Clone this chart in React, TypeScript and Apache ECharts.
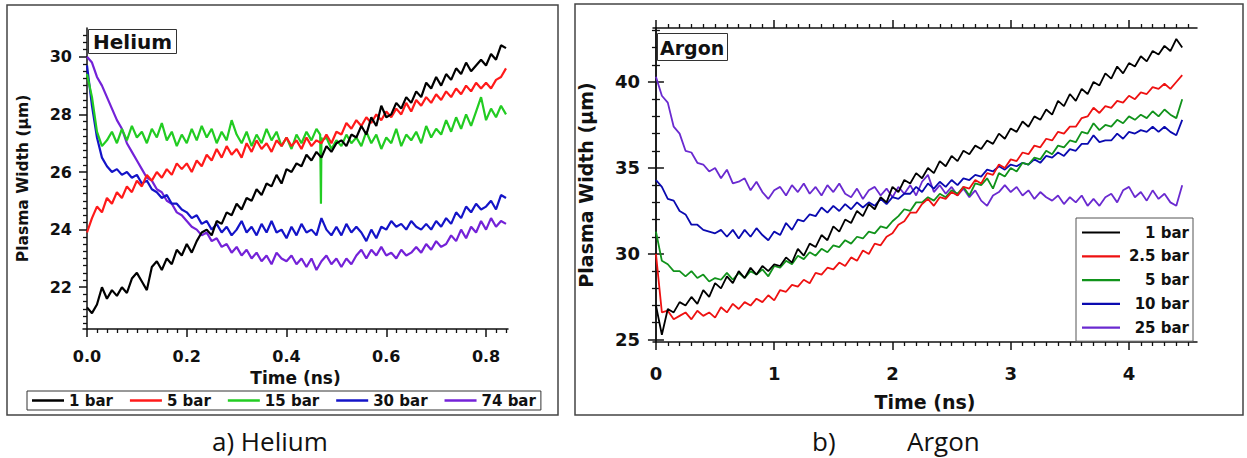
import React, { useEffect, useRef } from "react";
import * as echarts from "echarts";

// ---------------- DATA ----------------
const heliumTimeStep = 0.01; // ns between samples (t = 0 … 0.84)
const argonTimeStep = 0.05; // ns between samples (t = 0 … 4.45)

const heliumNames = ["1 bar", "5 bar", "15 bar", "30 bar", "74 bar"];
const argonNames = ["1 bar", "2.5 bar", "5 bar", "10 bar", "25 bar"];

const heliumBar1 = [21.3,21.1,21.4,22.0,21.6,21.9,21.7,22.0,21.8,22.3,
 22.5,22.2,21.9,22.7,22.9,22.6,23.0,22.8,23.3,23.1,
 23.5,23.2,23.6,23.9,24.0,23.8,24.3,24.2,24.6,24.5,
 24.9,24.7,25.1,25.0,25.4,25.2,25.6,25.5,25.9,25.6,
 26.1,26.0,26.3,26.2,26.6,26.4,26.7,26.5,26.9,26.7,
 27.0,27.1,26.9,27.3,27.2,27.6,27.3,27.9,27.6,28.3,
 27.9,28.0,28.4,28.2,28.6,28.4,28.8,28.6,29.1,28.9,
 29.3,29.0,29.4,29.2,29.6,29.4,29.8,29.5,29.7,29.9,
 29.7,30.1,29.9,30.4,30.3];
const heliumBar5 = [23.9,24.4,24.8,24.6,25.1,24.9,25.3,25.1,25.5,25.3,
 25.7,25.5,25.9,25.7,26.0,25.8,26.1,25.9,26.3,26.1,
 26.3,26.0,26.4,26.2,26.6,26.4,26.8,26.5,26.9,26.6,
 26.8,26.5,27.0,26.7,27.1,26.8,27.0,26.7,27.1,26.9,
 27.2,26.9,27.1,26.8,27.2,26.9,27.1,27.0,27.3,27.0,
 27.4,27.3,27.7,27.5,27.8,27.6,27.9,27.7,28.0,27.8,
 28.1,27.9,28.2,28.0,28.4,28.1,28.5,28.3,28.6,28.4,
 28.7,28.5,28.8,28.6,28.9,28.7,29.0,28.8,29.1,28.9,
 29.1,28.9,29.2,29.3,29.6];
const heliumBar15 = [29.4,28.6,27.4,26.9,27.1,27.4,27.0,27.5,27.1,27.6,
 27.2,27.4,27.0,27.5,27.2,27.7,27.1,27.4,26.9,27.3,
 27.0,27.5,27.1,27.6,27.2,27.5,27.0,27.4,27.1,27.8,
 27.3,27.0,27.4,26.9,27.3,27.0,27.5,27.1,27.4,26.9,
 27.2,26.8,27.3,27.0,27.4,27.1,27.5,27.2,27.2,26.8,
 27.1,26.9,27.3,27.0,27.2,26.9,27.4,27.0,27.3,26.8,
 27.2,27.0,27.5,26.9,27.3,27.1,27.4,27.0,27.6,27.2,
 27.5,27.3,27.8,27.4,27.9,27.5,28.0,27.6,28.1,28.6,
 27.8,28.2,27.9,28.3,28.0];
// narrow downward spike of the 15 bar trace, [time, width]
const heliumBar15Spike = [[0.4675, 27.3], [0.4690, 24.9], [0.4705, 27.1]];
const heliumBar30 = [29.7,28.3,27.2,26.5,26.2,26.0,26.1,25.9,26.0,25.8,
 25.9,25.6,25.7,25.4,25.3,25.1,25.2,24.9,24.9,24.7,
 24.6,24.4,24.5,24.2,24.3,24.0,24.2,23.9,24.1,23.8,
 24.0,24.3,23.9,24.1,23.8,24.2,23.9,24.3,23.9,24.0,
 23.7,24.1,23.8,24.2,23.9,24.0,23.8,24.4,24.0,23.8,
 24.1,23.8,24.2,23.9,24.1,23.9,23.6,24.0,23.7,24.1,
 24.0,24.3,24.1,24.2,24.0,24.3,24.1,24.0,24.2,24.0,
 24.3,24.1,24.4,24.2,24.6,24.4,24.8,24.6,24.9,24.7,
 24.8,25.0,24.7,25.2,25.1];
const heliumBar74 = [30.0,29.8,29.3,29.0,28.6,28.2,27.8,27.5,27.0,26.7,
 26.4,26.1,25.8,25.7,25.4,25.3,25.0,24.9,24.6,24.5,
 24.3,24.1,24.0,23.8,23.9,23.6,23.7,23.4,23.5,23.2,
 23.4,23.1,23.3,23.0,23.2,22.9,23.1,22.8,23.2,23.0,
 22.9,23.1,22.8,23.0,22.7,23.0,22.6,22.9,23.1,22.8,
 23.0,22.7,23.0,22.8,23.1,23.3,23.0,23.3,23.1,23.4,
 23.1,23.2,23.0,23.3,23.1,23.2,23.4,23.2,23.5,23.3,
 23.6,23.4,23.5,23.8,23.6,24.0,23.7,24.1,23.9,24.3,
 24.0,24.4,24.1,24.3,24.2];

const argonBar1 = [27.0,25.3,26.8,26.6,27.2,27.0,27.5,27.1,27.9,27.5,
 28.3,28.0,28.7,28.3,29.0,28.6,29.2,28.8,29.3,29.0,
 29.4,29.3,29.8,29.5,30.3,29.9,30.6,30.4,31.1,30.8,
 31.6,31.3,32.0,31.8,32.5,32.2,32.9,32.6,33.3,33.0,
 33.9,33.6,34.3,34.1,34.7,34.4,35.0,34.7,35.4,35.1,
 35.7,35.4,36.0,35.8,36.3,36.1,36.6,36.4,37.0,36.7,
 37.3,37.1,37.7,37.4,38.0,37.8,38.4,38.1,38.9,38.6,
 39.3,38.9,39.6,39.3,40.0,39.8,40.5,40.2,40.9,40.5,
 41.1,40.9,41.5,41.2,41.8,41.6,42.1,41.8,42.5,42.0];
const argonBar2_5 = [30.0,26.6,26.7,26.2,26.4,26.6,26.2,26.7,26.4,26.6,
 26.3,26.9,26.6,27.1,26.8,27.2,27.0,27.4,27.2,27.6,
 27.3,27.9,27.8,28.2,28.1,28.5,28.3,28.9,28.8,29.2,
 29.1,29.5,29.3,29.8,29.6,30.2,30.0,30.6,30.5,31.0,
 31.2,31.7,31.9,32.4,32.4,32.9,33.2,32.8,33.3,33.2,
 33.6,33.4,33.9,33.8,34.3,34.1,34.7,34.6,35.2,35.0,
 35.5,35.4,35.9,35.8,36.3,36.2,36.7,36.6,37.1,37.0,
 37.4,37.4,37.9,38.0,38.5,38.2,38.6,38.5,38.9,38.8,
 39.2,39.0,39.4,39.3,39.7,39.6,39.9,39.6,40.0,40.4];
const argonBar5 = [31.3,29.6,29.4,29.0,29.0,28.7,29.0,28.6,28.8,28.4,
 28.6,28.5,28.9,28.5,28.9,28.6,29.0,28.8,29.1,28.7,
 29.3,29.2,29.6,29.4,29.9,29.7,30.1,29.9,30.3,30.1,
 30.5,30.4,30.8,30.6,31.0,30.9,31.3,31.2,31.6,31.5,
 31.9,32.2,32.6,32.5,33.0,33.0,33.3,33.1,33.5,33.3,
 33.7,33.5,33.9,33.4,34.1,34.0,34.4,33.8,34.7,34.5,
 35.0,34.8,35.3,35.2,35.6,35.5,36.0,35.8,36.3,36.2,
 36.6,36.5,37.1,37.0,37.6,37.2,37.5,37.4,37.8,37.6,
 38.0,37.8,38.1,37.9,38.3,38.0,38.4,38.1,37.9,39.0];
const argonBar10 = [34.3,33.9,33.2,33.1,32.5,32.3,31.7,31.7,31.4,31.3,
 31.2,31.4,31.0,31.4,30.9,31.4,31.0,31.5,31.1,30.8,
 31.3,31.1,31.8,31.4,32.0,31.9,32.3,32.2,32.7,32.4,
 32.8,32.5,32.9,32.6,33.0,32.7,33.0,32.8,33.2,32.9,
 33.3,33.2,33.5,33.5,33.9,33.6,34.1,33.8,34.2,33.9,
 34.3,34.0,34.4,34.3,34.6,34.5,34.9,34.8,35.1,34.9,
 35.2,35.1,35.3,35.2,35.5,35.3,35.7,35.6,35.9,35.7,
 36.1,36.0,36.4,36.4,36.9,36.5,36.6,36.6,37.0,36.7,
 37.1,37.0,37.2,37.1,37.4,37.1,37.4,37.1,36.9,37.8];
const argonBar25 = [40.3,39.2,38.8,37.4,37.0,36.0,35.9,35.3,35.2,34.8,
 35.0,34.4,34.9,34.1,34.2,34.4,33.7,34.2,33.6,33.2,
 33.7,33.9,33.4,34.0,33.6,34.1,33.5,33.9,33.4,34.0,
 33.6,34.1,33.5,33.3,33.8,33.2,33.7,33.9,33.4,33.8,
 33.3,33.9,33.5,34.0,33.4,34.2,34.6,33.6,34.0,33.5,
 33.9,33.4,33.8,33.3,33.7,33.1,32.8,33.4,33.6,34.0,
 33.6,33.9,33.4,33.7,33.2,33.6,33.3,33.1,33.4,32.9,
 33.3,33.0,33.4,32.8,33.2,32.8,33.3,33.5,33.0,33.7,
 33.9,33.3,33.6,33.1,33.7,33.2,33.5,33.0,32.8,34.0];

// tick values
const heliumXTicks = [0, 0.2, 0.4, 0.6, 0.8];
const heliumYTicks = [22, 24, 26, 28, 30];
const argonXTicks = [0, 1, 2, 3, 4];
const argonYTicks = [25, 30, 35, 40];

// ---------------- STYLE ----------------
const FONT = "DejaVu Sans";
const heliumColors = ["#000000", "#ff1a1a", "#22cc22", "#1414c8", "#7422d8"];
const argonColors = ["#000000", "#ee1111", "#11931b", "#0a0ab0", "#6a2ad0"];

function toPairs(step: number, values: number[]): number[][] {
  return values.map((v, i) => [Math.round(i * step * 10000) / 10000, v]);
}
function minorTicks(start: number, end: number, step: number, majors: number[]): number[] {
  const out: number[] = [];
  const n = Math.round((end - start) / step);
  for (let i = 0; i <= n; i++) {
    const v = Math.round((start + i * step) * 10000) / 10000;
    if (!majors.some((m) => Math.abs(m - v) < 1e-6)) out.push(v);
  }
  return out;
}

const axisColor = "#111";

function heliumOption(): any {
  const xMin = -0.008, xMax = 0.844, yMin = 20.55, yMax = 31.0;
  const lists = [heliumBar1, heliumBar5, heliumBar15, heliumBar30, heliumBar74];
  const series = lists.map((vals, k) => {
    let data = toPairs(heliumTimeStep, vals);
    if (k === 2) data = data.concat(heliumBar15Spike).sort((a, b) => a[0] - b[0]);
    return {
      name: heliumNames[k],
      type: "line",
      data,
      symbol: "none",
      xAxisIndex: 0,
      yAxisIndex: 0,
      lineStyle: { color: heliumColors[k], width: 2.2 },
      itemStyle: { color: heliumColors[k] },
      z: 10 - k,
    };
  });
  return {
    animation: false,
    backgroundColor: "#fff",
    title: {
      text: "Helium",
      left: 88,
      top: 29,
      padding: [3, 5, 2, 5],
      borderColor: "#333",
      borderWidth: 1,
      backgroundColor: "#fff",
      textStyle: { fontFamily: FONT, fontWeight: "bold", fontSize: 20, color: "#111" },
    },
    legend: {
      data: heliumNames,
      left: 27,
      top: 391,
      orient: "horizontal",
      icon: "rect",
      padding: [1, 5, 1, 5],
      itemGap: 17,
      itemWidth: 32,
      itemHeight: 2.5,
      borderColor: "#333",
      borderWidth: 1,
      backgroundColor: "#fff",
      textStyle: { fontFamily: FONT, fontWeight: "bold", fontSize: 15, lineHeight: 17, color: "#111" },
    },
    grid: { left: 83, top: 28, width: 425, height: 301 },
    xAxis: [
      {
        type: "value", min: xMin, max: xMax, position: "bottom",
        axisLine: { show: true, lineStyle: { color: axisColor, width: 1.5 } },
        axisTick: { show: true, customValues: heliumXTicks, length: 8, lineStyle: { color: axisColor, width: 1.5 } },
        axisLabel: {
          customValues: heliumXTicks, margin: 19, color: "#111",
          fontFamily: FONT, fontWeight: "bold", fontSize: 16,
          formatter: (v: number) => v.toFixed(1),
        },
        splitLine: { show: false },
        name: "Time (ns)", nameLocation: "middle", nameGap: 40,
        nameTextStyle: { fontFamily: FONT, fontWeight: "bold", fontSize: 17, color: "#111" },
      },
      {
        type: "value", min: xMin, max: xMax, position: "bottom",
        axisLine: { show: false },
        axisTick: { show: true, customValues: minorTicks(0, 0.84, 0.02, heliumXTicks), length: 4, lineStyle: { color: axisColor, width: 1.3 } },
        axisLabel: { show: false },
        splitLine: { show: false },
      },
    ],
    yAxis: [
      {
        type: "value", min: yMin, max: yMax, position: "left",
        axisLine: { show: true, lineStyle: { color: axisColor, width: 1.5 } },
        axisTick: { show: true, customValues: heliumYTicks, length: 8, lineStyle: { color: axisColor, width: 1.5 } },
        axisLabel: {
          customValues: heliumYTicks, margin: 11, color: "#111",
          fontFamily: FONT, fontWeight: "bold", fontSize: 16,
        },
        splitLine: { show: false },
        name: "Plasma Width (μm)", nameLocation: "middle", nameGap: 52,
        nameTextStyle: { fontFamily: FONT, fontWeight: "bold", fontSize: 15.5, color: "#111" },
      },
      {
        type: "value", min: yMin, max: yMax, position: "left",
        axisLine: { show: false },
        axisTick: { show: true, customValues: minorTicks(20.75, 30.75, 0.25, heliumYTicks), length: 4, lineStyle: { color: axisColor, width: 1.3 } },
        axisLabel: { show: false },
        splitLine: { show: false },
      },
    ],
    series,
    graphic: [
      {
        type: "rect", shape: { x: 7, y: 5, width: 551, height: 410 },
        style: { fill: "none", stroke: "#444", lineWidth: 1.5 }, silent: true, z: -1,
      },
      {
        type: "text", x: 212, y: 441,
        style: { text: "a) Helium", font: "26px 'Open Sans'", fill: "#111", verticalAlign: "middle", align: "left" },
      },
    ],
  };
}

function argonOption(): any {
  const xMin = -0.025, xMax = 4.575, yMin = 24.88, yMax = 43.14;
  const lists = [argonBar1, argonBar2_5, argonBar5, argonBar10, argonBar25];
  const series = lists.map((vals, k) => ({
    name: argonNames[k],
    type: "line",
    data: toPairs(argonTimeStep, vals),
    symbol: "none",
    xAxisIndex: 0,
    yAxisIndex: 0,
    lineStyle: { color: argonColors[k], width: 1.8 },
    itemStyle: { color: argonColors[k] },
    z: 10 - k,
  }));
  const xMinors = minorTicks(0, 4.5, 0.1, argonXTicks);
  const yMinors = minorTicks(25, 43, 1, argonYTicks);
  const tickStyle = { color: axisColor, width: 1.5 };
  const minorStyle = { color: axisColor, width: 1.3 };
  const lineStyle = { color: axisColor, width: 1.5 };
  return {
    animation: false,
    backgroundColor: "#fff",
    title: {
      text: "Argon",
      left: 91,
      top: 33,
      padding: [5, 3, 4, 3],
      borderColor: "#333",
      borderWidth: 1,
      backgroundColor: "#fff",
      textStyle: { fontFamily: FONT, fontWeight: "bold", fontSize: 19, color: "#111" },
    },
    legend: {
      data: argonNames,
      left: 510,
      top: 218,
      orient: "vertical",
      icon: "rect",
      padding: [7, 4, 6, 6],
      itemGap: 8.8,
      itemWidth: 38,
      itemHeight: 2.2,
      borderColor: "#555",
      borderWidth: 1,
      backgroundColor: "#fff",
      formatter: (name: string) => "{t|" + name + "}",
      textStyle: {
        fontFamily: FONT, fontWeight: "bold", fontSize: 15, color: "#111",
        rich: { t: { width: 64, align: "right", lineHeight: 17, fontFamily: FONT, fontWeight: "bold", fontSize: 15, color: "#111" } },
      },
    },
    grid: { left: 87, top: 28, width: 544, height: 314 },
    xAxis: [
      {
        type: "value", min: xMin, max: xMax, position: "bottom",
        axisLine: { show: true, lineStyle },
        axisTick: { show: true, customValues: argonXTicks, length: 8, lineStyle: tickStyle },
        axisLabel: { customValues: argonXTicks, margin: 22, color: "#111", fontFamily: FONT, fontWeight: "bold", fontSize: 18 },
        splitLine: { show: false },
        name: "Time (ns)", nameLocation: "middle", nameGap: 50,
        nameTextStyle: { fontFamily: FONT, fontWeight: "bold", fontSize: 19, color: "#111" },
      },
      {
        type: "value", min: xMin, max: xMax, position: "bottom",
        axisLine: { show: false },
        axisTick: { show: true, customValues: xMinors, length: 4, lineStyle: minorStyle },
        axisLabel: { show: false }, splitLine: { show: false },
      },
      {
        type: "value", min: xMin, max: xMax, position: "top",
        axisLine: { show: true, lineStyle },
        axisTick: { show: true, customValues: argonXTicks, length: 8, lineStyle: tickStyle },
        axisLabel: { show: false }, splitLine: { show: false },
      },
      {
        type: "value", min: xMin, max: xMax, position: "top",
        axisLine: { show: false },
        axisTick: { show: true, customValues: xMinors, length: 4, lineStyle: minorStyle },
        axisLabel: { show: false }, splitLine: { show: false },
      },
    ],
    yAxis: [
      {
        type: "value", min: yMin, max: yMax, position: "left",
        axisLine: { show: true, lineStyle },
        axisTick: { show: true, customValues: argonYTicks, length: 8, lineStyle: tickStyle },
        axisLabel: { customValues: argonYTicks, margin: 13, color: "#111", fontFamily: FONT, fontWeight: "bold", fontSize: 18 },
        splitLine: { show: false },
        name: "Plasma Width (μm)", nameLocation: "middle", nameGap: 58,
        nameTextStyle: { fontFamily: FONT, fontWeight: "bold", fontSize: 19, color: "#111" },
      },
      {
        type: "value", min: yMin, max: yMax, position: "left",
        axisLine: { show: false },
        axisTick: { show: true, customValues: yMinors, length: 4, lineStyle: minorStyle },
        axisLabel: { show: false }, splitLine: { show: false },
      },
      {
        type: "value", min: yMin, max: yMax, position: "right",
        axisLine: { show: true, lineStyle },
        axisTick: { show: true, customValues: argonYTicks, length: 8, lineStyle: tickStyle },
        axisLabel: { show: false }, splitLine: { show: false },
      },
      {
        type: "value", min: yMin, max: yMax, position: "right",
        axisLine: { show: false },
        axisTick: { show: true, customValues: yMinors, length: 4, lineStyle: minorStyle },
        axisLabel: { show: false }, splitLine: { show: false },
      },
    ],
    series,
    graphic: [
      {
        type: "rect", shape: { x: 9, y: 4, width: 668, height: 411 },
        style: { fill: "none", stroke: "#444", lineWidth: 1.5 }, silent: true, z: -1,
      },
      {
        type: "text", x: 246, y: 441,
        style: { text: "b)", font: "26px 'Open Sans'", fill: "#111", verticalAlign: "middle", align: "left" },
      },
      {
        type: "text", x: 341, y: 441,
        style: { text: "Argon", font: "26px 'Open Sans'", fill: "#111", verticalAlign: "middle", align: "left" },
      },
    ],
  };
}

function Chart({ option, left, width }: { option: any; left: number; width: number }) {
  const ref = useRef<HTMLDivElement>(null);
  useEffect(() => {
    if (!ref.current) return;
    const chart = echarts.init(ref.current, undefined, { renderer: "svg" });
    chart.setOption(option);
    return () => chart.dispose();
  }, []);
  return (
    <div
      ref={ref}
      style={{ position: "absolute", left, top: 0, width, height: 458 }}
    />
  );
}

export default function App() {
  return (
    <div style={{ position: "absolute", left: 0, top: 0, width: 1247, height: 458, background: "#fff" }}>
      <Chart option={heliumOption()} left={0} width={566} />
      <Chart option={argonOption()} left={566} width={681} />
    </div>
  );
}
